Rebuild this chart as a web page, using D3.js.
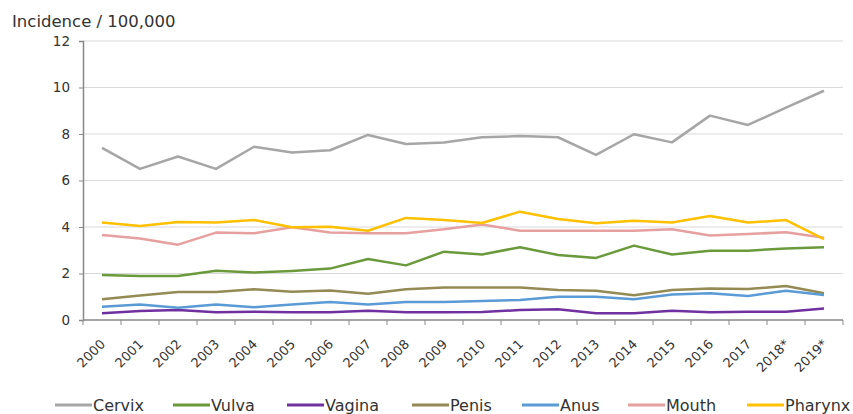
<!DOCTYPE html>
<html><head><meta charset="utf-8">
<script src="https://cdn.jsdelivr.net/npm/d3@7"></script>
<style>body{margin:0;background:#fff}svg{display:block}text{font-family:"DejaVu Sans",Verdana,sans-serif}</style>
</head><body><svg id="c" width="853" height="414"></svg>
<script>
const years = ["2000","2001","2002","2003","2004","2005","2006","2007","2008","2009","2010","2011","2012","2013","2014","2015","2016","2017","2018*","2019*"];
const cervix  = [7.4,6.5,7.03,6.5,7.45,7.2,7.3,7.96,7.57,7.63,7.86,7.91,7.86,7.1,7.99,7.64,8.79,8.39,9.13,9.86];
const vulva   = [1.94,1.89,1.89,2.12,2.04,2.11,2.21,2.62,2.35,2.94,2.82,3.13,2.8,2.67,3.2,2.82,2.98,2.98,3.08,3.13];
const vagina  = [0.29,0.39,0.43,0.33,0.36,0.33,0.33,0.4,0.33,0.33,0.34,0.43,0.46,0.29,0.29,0.4,0.33,0.36,0.36,0.49];
const penis   = [0.89,1.05,1.2,1.2,1.32,1.22,1.27,1.13,1.32,1.4,1.4,1.4,1.29,1.26,1.06,1.29,1.36,1.33,1.46,1.15];
const anus    = [0.57,0.67,0.53,0.67,0.55,0.67,0.77,0.67,0.77,0.77,0.82,0.86,1.0,1.0,0.89,1.1,1.15,1.03,1.26,1.08];
const mouth   = [3.66,3.51,3.24,3.76,3.73,3.99,3.76,3.73,3.73,3.9,4.11,3.84,3.84,3.84,3.84,3.9,3.63,3.7,3.77,3.54];
const pharynx = [4.19,4.04,4.21,4.19,4.3,3.99,4.01,3.84,4.39,4.3,4.17,4.66,4.34,4.16,4.27,4.19,4.47,4.19,4.3,3.48];
const seriesNames = ["Cervix","Vulva","Vagina","Penis","Anus","Mouth","Pharynx"];
const seriesValues = [cervix,vulva,vagina,penis,anus,mouth,pharynx];
const colors = ["#a6a6a6","#6b9a3c","#7030a0","#948a54","#5b9bd5","#e6a0a0","#ffc000"];
const yTicks = [0,2,4,6,8,10,12];

const svg = d3.select("#c");
const x = d3.scaleBand().domain(years).range([83,843]);
const y = d3.scaleLinear().domain([0,12]).range([320,41]);
const cx = d => x(d) + x.bandwidth()/2;

// gridlines
svg.append("g").selectAll("line").data(yTicks.filter(d=>d>0)).join("line")
  .attr("x1",83).attr("x2",843).attr("y1",d=>y(d)).attr("y2",d=>y(d))
  .attr("stroke","#d9d9d9").attr("stroke-width",1);

// y axis
const ya = svg.append("g").attr("transform","translate(83,0)")
  .call(d3.axisLeft(y).tickValues(yTicks).tickSize(4).tickPadding(9));
ya.select(".domain").attr("stroke","#888").attr("stroke-width",1.5);
ya.selectAll(".tick line").attr("stroke","#888");
ya.selectAll("text").attr("font-size",13.5).attr("fill","#333");

// x axis
const xa = svg.append("g").attr("transform","translate(0,320)");
xa.append("line").attr("x1",83).attr("x2",843).attr("stroke","#888").attr("stroke-width",1.5);
xa.selectAll("line.t").data(years.concat(["end"])).join("line").attr("class","t")
  .attr("x1",d=>d==="end"?843:x(d)).attr("x2",d=>d==="end"?843:x(d))
  .attr("y1",0).attr("y2",5).attr("stroke","#888");
xa.selectAll("text").data(years).join("text")
  .attr("transform",d=>`translate(${cx(d)+4},${25}) rotate(-45)`)
  .attr("text-anchor","end").attr("font-size",13).attr("fill","#333")
  .text(d=>d);

// title
svg.append("text").attr("x",12).attr("y",27).attr("font-size",16.5).attr("fill","#333").text("Incidence / 100,000");

// lines
const line = d3.line().x((d,i)=>cx(years[i])).y(d=>y(d));
svg.append("g").selectAll("path").data(seriesValues).join("path")
  .attr("d",line).attr("fill","none").attr("stroke",(d,i)=>colors[i])
  .attr("stroke-width",2.5).attr("stroke-linejoin","round");

// legend
const legX = [55,173,287,412,522,628,747];
const lg = svg.append("g").selectAll("g").data(seriesNames).join("g")
  .attr("transform",(d,i)=>`translate(${legX[i]},405)`);
lg.append("line").attr("x1",0).attr("x2",37).attr("y1",0).attr("y2",0)
  .attr("stroke",(d,i)=>colors[i]).attr("stroke-width",3);
lg.append("text").attr("x",38).attr("y",6).attr("font-size",16).attr("fill","#333").text(d=>d);
</script></body></html>
